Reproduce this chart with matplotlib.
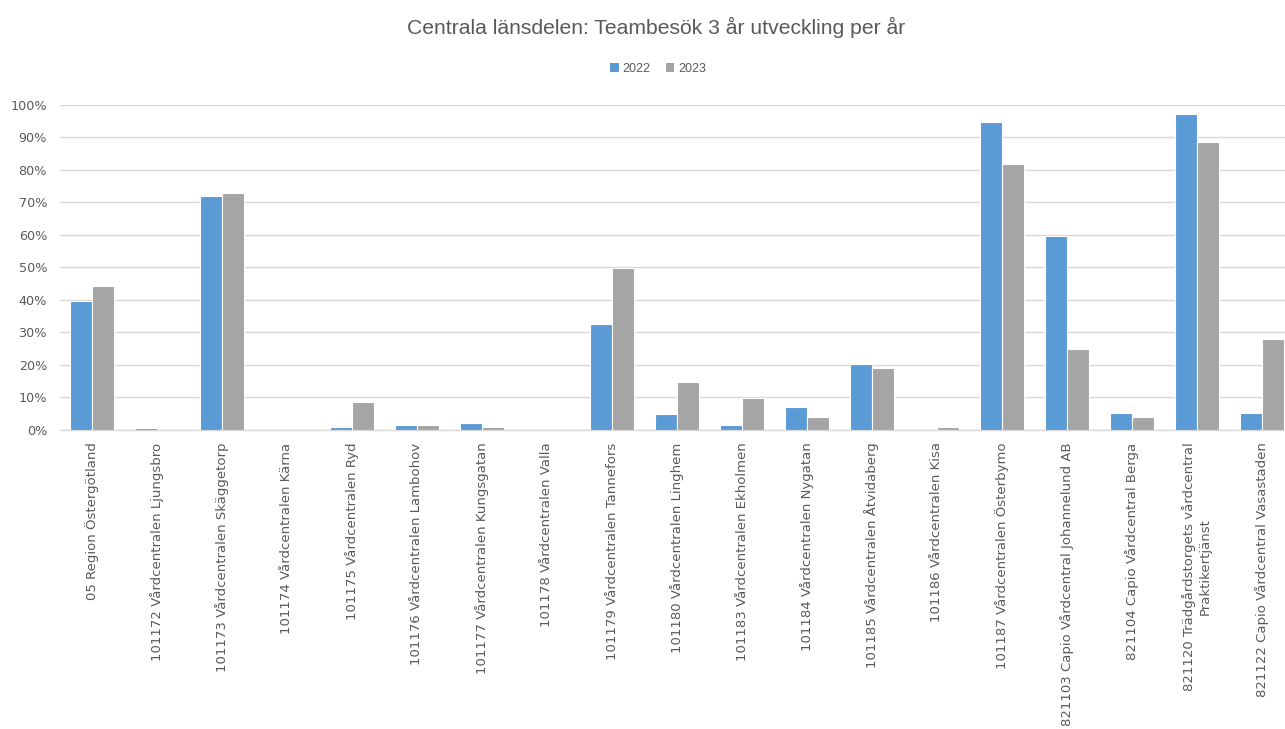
import matplotlib.pyplot as plt
from matplotlib.patches import Patch
from matplotlib.ticker import PercentFormatter
import numpy as np

# Teambesök per vårdcentral, andel per år
enheter = [
    "05 Region Östergötland",
    "101172 Vårdcentralen Ljungsbro",
    "101173 Vårdcentralen Skäggetorp",
    "101174 Vårdcentralen Kärna",
    "101175 Vårdcentralen Ryd",
    "101176 Vårdcentralen Lambohov",
    "101177 Vårdcentralen Kungsgatan",
    "101178 Vårdcentralen Valla",
    "101179 Vårdcentralen Tannefors",
    "101180 Vårdcentralen Linghem",
    "101183 Vårdcentralen Ekholmen",
    "101184 Vårdcentralen Nygatan",
    "101185 Vårdcentralen Åtvidaberg",
    "101186 Vårdcentralen Kisa",
    "101187 Vårdcentralen Österbymo",
    "821103 Capio Vårdcentral Johannelund AB",
    "821104 Capio Vårdcentral Berga",
    "821120 Trädgårdstorgets vårdcentral\nPraktikertjänst",
    "821122 Capio Vårdcentral Vasastaden",
]
ar_2022 = [0.396, 0.006, 0.719, 0.0, 0.009, 0.014, 0.023, 0.0, 0.326, 0.049,
           0.014, 0.070, 0.202, 0.0, 0.946, 0.596, 0.052, 0.971, 0.052]
ar_2023 = [0.441, 0.0, 0.727, 0.0, 0.087, 0.014, 0.009, 0.0, 0.497, 0.147,
           0.099, 0.039, 0.190, 0.009, 0.818, 0.249, 0.039, 0.886, 0.279]

BLA = "#5B9BD5"
GRA = "#A5A5A5"
TEXT = "#595959"
GRID = "#D9D9D9"

W, H = 1285, 729
fig = plt.figure(figsize=(W / 100, H / 100), dpi=100)
ax = fig.add_axes([59.5 / W, 1 - 430 / H, (1294.5 - 59.5) / W, (430 - 104.6) / H])

x = np.arange(len(enheter))
bw = 0.34
ax.bar(x - bw / 2, ar_2022, bw, color=BLA, edgecolor="white", linewidth=0.8, zorder=3)
ax.bar(x + bw / 2, ar_2023, bw, color=GRA, edgecolor="white", linewidth=0.8, zorder=3)

ax.set_xlim(-0.5, len(enheter) - 0.5)
ax.set_ylim(0, 1)
ax.set_yticks(np.arange(0, 1.01, 0.1))
ax.yaxis.set_major_formatter(PercentFormatter(1.0, decimals=0))
ax.grid(axis="y", color=GRID, linewidth=1, zorder=0)
ax.set_axisbelow(True)

for s in ["top", "right", "left"]:
    ax.spines[s].set_visible(False)
ax.spines["bottom"].set_color(GRID)
ax.spines["bottom"].set_linewidth(1)

ax.set_xticks(x)
ax.set_xticklabels(enheter, rotation=90, ha="center", va="top",
                   multialignment="center", fontsize=9.5, color=TEXT,
                   family="DejaVu Sans")
ax.tick_params(axis="both", length=0)
ax.tick_params(axis="x", pad=9)
ax.tick_params(axis="y", pad=9, labelsize=9.2, labelcolor=TEXT)

fig.text(656 / W, 1 - 27 / H, "Centrala länsdelen: Teambesök 3 år utveckling per år",
         ha="center", va="center", fontsize=15.2, color=TEXT, family="Liberation Sans")

handles = [Patch(facecolor=BLA, label="2022"), Patch(facecolor=GRA, label="2023")]
fig.legend(handles=handles, loc="center", bbox_to_anchor=(658 / W, 1 - 69 / H),
           ncol=2, frameon=False, handlelength=0.7, handleheight=0.7,
           handletextpad=0.3, columnspacing=1.2,
           prop={"family": "Liberation Sans", "size": 9}, labelcolor=TEXT)

plt.savefig("out.png", dpi=100)
